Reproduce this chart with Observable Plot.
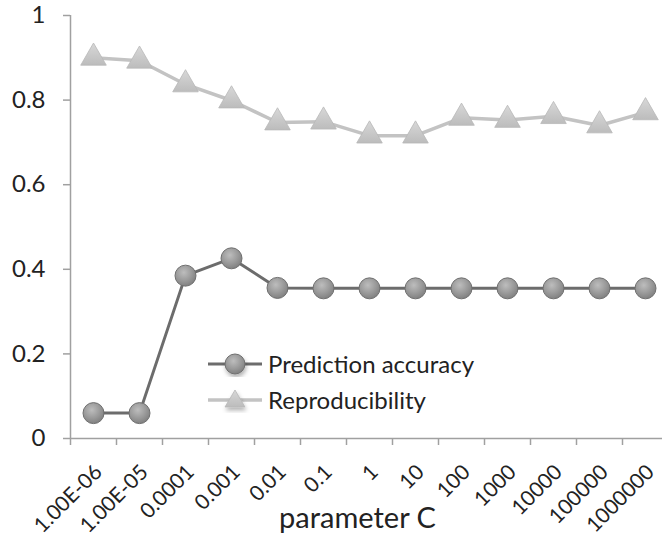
<!DOCTYPE html>
<html><head><meta charset="utf-8">
<script src="https://cdn.jsdelivr.net/npm/d3@7"></script>
<script src="https://cdn.jsdelivr.net/npm/@observablehq/plot@0.6"></script>
<style>
html,body{margin:0;padding:0;background:#fff;overflow:hidden}
#wrap{position:relative;width:662px;height:541px;overflow:hidden}
#legend{position:absolute;left:206px;top:346px;font-family:Lato,sans-serif;font-size:24px;color:#222;line-height:36px}
#legend .row{display:flex;align-items:center;height:36px}
#legend svg{display:block;margin-right:4px}
</style></head><body>
<div id="wrap"><div id="chart"></div><div id="legend"></div></div>
<script>
const categories = ["1.00E-06","1.00E-05","0.0001","0.001","0.01","0.1","1","10","100","1000","10000","100000","1000000"];
const predictionAccuracy = [0.06,0.06,0.385,0.426,0.356,0.355,0.355,0.355,0.355,0.355,0.355,0.355,0.355];
const reproducibility = [0.90,0.893,0.837,0.799,0.747,0.749,0.716,0.716,0.758,0.753,0.762,0.740,0.771];
const yTicks = [0,0.2,0.4,0.6,0.8,1];
const seriesNames = ["Prediction accuracy","Reproducibility"];
const xTitle = "parameter C";

const accRows = categories.map((c,i)=>({i, c, v: predictionAccuracy[i]}));
const repRows = categories.map((c,i)=>({i, c, v: reproducibility[i]}));
const boundaries = d3.range(-0.5, categories.length, 1);
const centers = d3.range(categories.length);

const axisColor = "#a0a0a0";
const plot = Plot.plot({
  width: 662, height: 541,
  marginLeft: 70, marginRight: 0, marginTop: 15, marginBottom: 103,
  style: {fontFamily: "Lato, sans-serif", fontSize: "24px", color: "#222", background: "#fff", overflow: "hidden"},
  x: {type: "linear", domain: [-0.5, categories.length - 0.5], range: [70, 668]},
  y: {domain: [0, 1], range: [438, 15]},
  marks: [
    Plot.ruleY([0], {stroke: axisColor, strokeWidth: 1.5}),
    Plot.ruleX([-0.5], {y1: 0, y2: 1, stroke: axisColor, strokeWidth: 1.5}),
    Plot.axisY(yTicks, {tickSize: 7, tickPadding: 18, tickFormat: d => String(d), stroke: axisColor, strokeWidth: 1.5, fontSize: 24, label: null}),
    Plot.axisX(boundaries, {tickSize: 7, tickFormat: () => "", stroke: axisColor, strokeWidth: 1.5, label: null}),
    Plot.axisX(centers, {tickSize: 0, tickPadding: 30, dx: 5, tickRotate: -45, tickFormat: i => categories[i], fontSize: 21, label: null}),
    Plot.text([xTitle], {frameAnchor: "bottom", lineAnchor: "bottom", dy: 89, dx: -9, fontSize: 29, fill: "#222"}),
    Plot.line(repRows, {x: "i", y: "v", stroke: "#c3c3c3", strokeWidth: 3.5}),
    Plot.dot(repRows, {x: "i", y: "v", symbol: "triangle", r: 9.5, fill: "url(#gtri)", stroke: "#b8b8b8", strokeWidth: 0.8, ariaLabel: "rep-dots"}),
    Plot.line(accRows, {x: "i", y: "v", stroke: "#6c6c6c", strokeWidth: 3}),
    Plot.dot(accRows, {x: "i", y: "v", r: 10.5, fill: "url(#gcirc)", stroke: "#6f6f6f", strokeWidth: 1, ariaLabel: "acc-dots"})
  ]
});

const defs = `
<radialGradient id="gcirc" cx="42%" cy="35%" r="70%">
  <stop offset="0%" stop-color="#bdbdbd"/>
  <stop offset="55%" stop-color="#9a9a9a"/>
  <stop offset="100%" stop-color="#7c7c7c"/>
</radialGradient>
<linearGradient id="gtri" x1="0" y1="0" x2="0" y2="1">
  <stop offset="0%" stop-color="#d8d8d8"/>
  <stop offset="100%" stop-color="#bcbcbc"/>
</linearGradient>
<filter id="shadow" x="-60%" y="-60%" width="220%" height="220%">
  <feDropShadow dx="1" dy="3" stdDeviation="2" flood-color="#000" flood-opacity="0.3"/>
</filter>`;
const d = document.createElementNS("http://www.w3.org/2000/svg", "defs");
d.innerHTML = defs;
plot.insertBefore(d, plot.firstChild);
plot.querySelectorAll('g[aria-label="rep-dots"], g[aria-label="acc-dots"]').forEach(g => g.setAttribute("filter", "url(#shadow)"));
document.getElementById("chart").appendChild(plot);

const legend = document.getElementById("legend");
const sw = [
  `<svg width="58" height="26"><line x1="2" y1="13" x2="56" y2="13" stroke="#6c6c6c" stroke-width="3"/><circle cx="29" cy="13" r="10" fill="url(#gcirc)" stroke="#6f6f6f" filter="url(#shadow)"/></svg>`,
  `<svg width="58" height="26"><line x1="2" y1="13" x2="56" y2="13" stroke="#c3c3c3" stroke-width="3.5"/><path d="M29,3L39,20L19,20Z" fill="url(#gtri)" stroke="#b8b8b8" stroke-width="0.8" filter="url(#shadow)"/></svg>`
];
seriesNames.forEach((n, k) => {
  const row = document.createElement("div");
  row.className = "row";
  row.innerHTML = sw[k] + `<span>${n}</span>`;
  legend.appendChild(row);
});
</script>
</body></html>
